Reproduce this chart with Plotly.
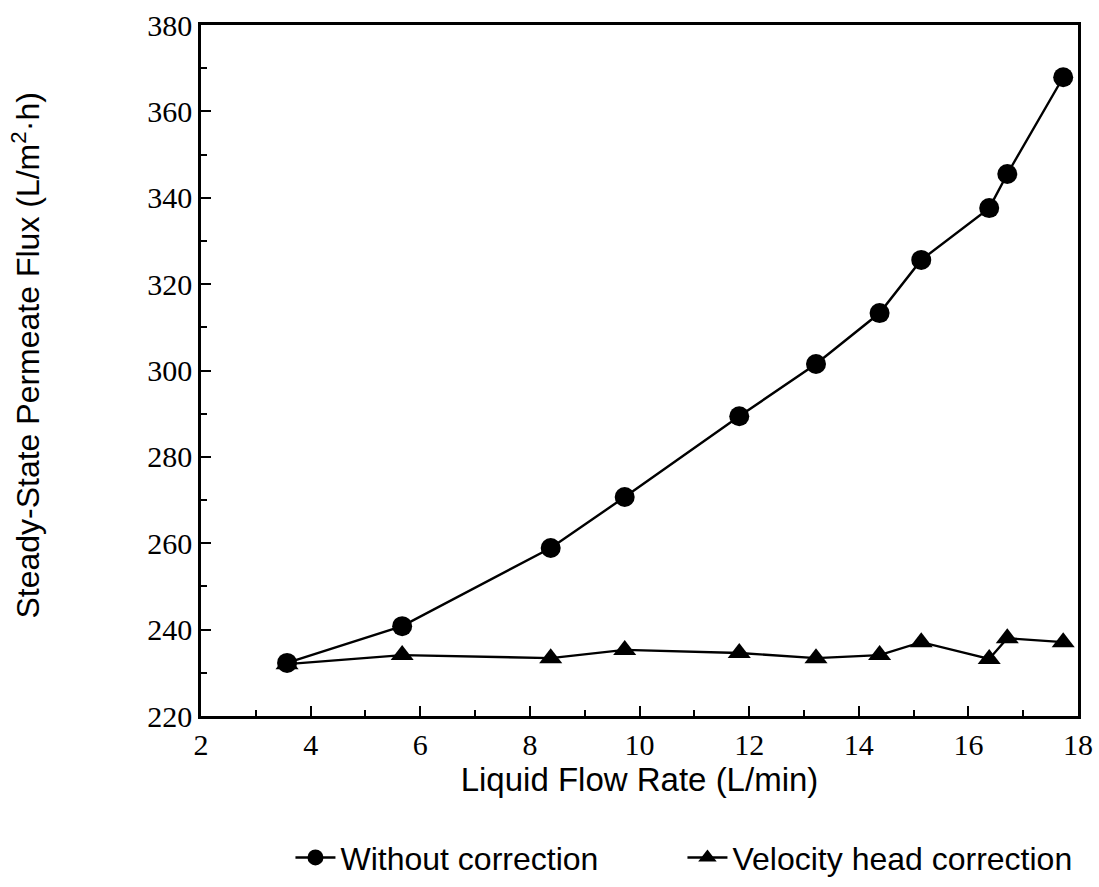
import plotly.graph_objects as go

flow_rate = [3.57, 5.67, 8.38, 9.73, 11.82, 13.22, 14.38, 15.14, 16.38, 16.71, 17.73]
without_correction = [232.3, 240.8, 258.9, 270.7, 289.4, 301.5, 313.3, 325.6, 337.6, 345.5, 367.9]
velocity_head = [232.0, 234.1, 233.4, 235.3, 234.6, 233.4, 234.1, 237.1, 233.2, 238.0, 237.1]

x_ticks = [2, 4, 6, 8, 10, 12, 14, 16, 18]
y_ticks = [220, 240, 260, 280, 300, 320, 340, 360, 380]

fig = go.Figure()
fig.add_trace(go.Scatter(
    x=flow_rate, y=without_correction, mode="lines+markers", name="Without correction",
    line=dict(color="black", width=2.4),
    marker=dict(symbol="circle", size=20, color="black"),
))
fig.add_trace(go.Scatter(
    x=flow_rate, y=velocity_head, mode="lines+markers", name="Velocity head correction",
    line=dict(color="black", width=2.4),
    marker=dict(symbol="triangle-up", size=20, color="black"),
))

axis_common = dict(
    showline=True, linecolor="black", linewidth=2.5, mirror=True,
    ticks="inside", ticklen=10, tickwidth=2, tickcolor="black",
    showgrid=False, zeroline=False,
    tickfont=dict(family="Liberation Serif", size=30, color="black"),
)

fig.update_xaxes(
    range=[2, 18], tickvals=x_ticks, ticktext=[str(v) for v in x_ticks],
    minor=dict(dtick=1, ticks="inside", ticklen=6, tickwidth=2, tickcolor="black"),
    title=dict(text="Liquid Flow Rate (L/min)", standoff=4,
               font=dict(family="Liberation Sans", size=33, color="black")),
    **axis_common,
)
fig.update_yaxes(
    range=[220, 380], tickvals=y_ticks, ticktext=[str(v) for v in y_ticks],
    minor=dict(dtick=10, ticks="inside", ticklen=6, tickwidth=2, tickcolor="black"),
    **axis_common,
)

fig.add_annotation(
    text="Steady-State Permeate Flux (L/m<sup>2</sup>·h)",
    xref="paper", yref="paper", x=-0.2, y=0.521,
    xanchor="center", yanchor="middle", textangle=-90, showarrow=False,
    font=dict(family="Liberation Sans", size=32, color="black"),
)

fig.update_layout(
    width=1099, height=887,
    margin=dict(l=201, r=21, t=25, b=171, autoexpand=False),
    plot_bgcolor="white", paper_bgcolor="white",
    showlegend=True,
    legend=dict(
        orientation="h", x=0.102, y=-0.205, xanchor="left", yanchor="middle",
        font=dict(family="Liberation Sans", size=32, color="black"),
        entrywidth=337, itemwidth=40,
        bgcolor="rgba(0,0,0,0)",
    ),
)

fig.write_html("out.html")
